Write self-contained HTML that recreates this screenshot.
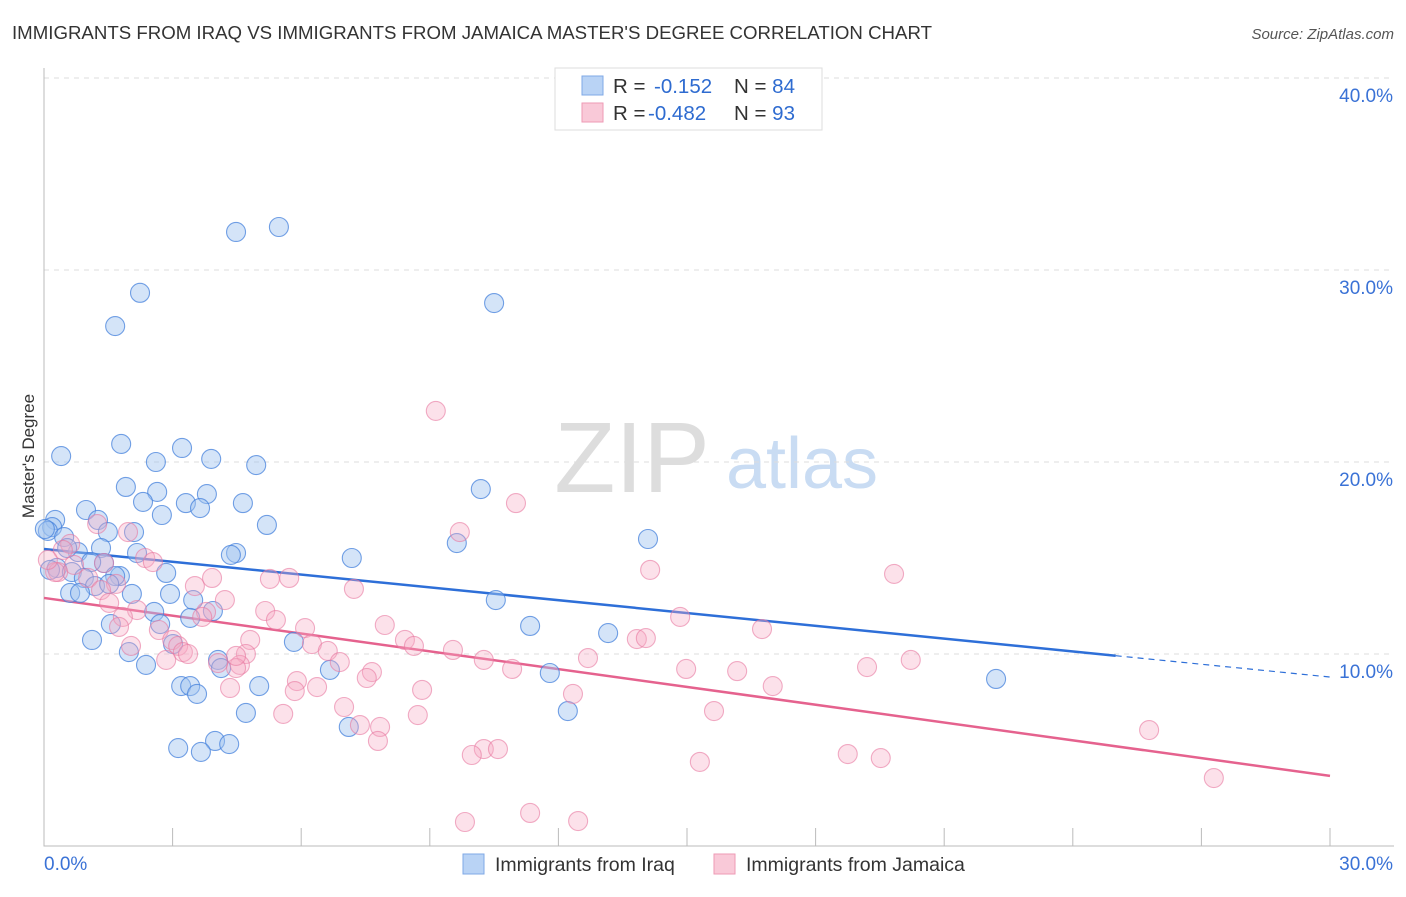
<!DOCTYPE html>
<html><head><meta charset="utf-8"><style>
body{margin:0;background:#fff;font-family:"Liberation Sans",sans-serif}
svg text{font-family:"Liberation Sans",sans-serif}
</style></head><body>
<svg width="1406" height="892" xmlns="http://www.w3.org/2000/svg">
<text x="12" y="39" font-size="18" fill="#333" textLength="920" lengthAdjust="spacingAndGlyphs">IMMIGRANTS FROM IRAQ VS IMMIGRANTS FROM JAMAICA MASTER'S DEGREE CORRELATION CHART</text>
<text x="1394" y="39" font-size="15" fill="#555" font-style="italic" text-anchor="end">Source: ZipAtlas.com</text>
<g>
<text x="632" y="492" font-size="100" font-family="Liberation Serif" fill="#ddd" text-anchor="middle">ZIP</text>
<text x="802" y="488" font-size="72" fill="#c9dcf3" text-anchor="middle">atlas</text>
</g>
<g id="grid"></g><g id="axes"></g><g id="lines"></g><g id="pts"></g>
<text transform="translate(34,456) rotate(-90)" font-size="17" fill="#333" text-anchor="middle">Master's Degree</text>
<g>
<rect x="555" y="68" width="267" height="62" fill="#fff" stroke="#ddd"/>
<rect x="582" y="76" width="21" height="19" fill="#b9d3f5" stroke="#7fa8e6"/>
<rect x="582" y="103" width="21" height="19" fill="#f9c9d8" stroke="#ee9ab5"/>
<text x="613" y="93" font-size="20.5" fill="#333">R = <tspan x="654" fill="#2e6bd0">-0.152</tspan><tspan x="734">N = </tspan><tspan fill="#2e6bd0">84</tspan></text>
<text x="613" y="120" font-size="20.5" fill="#333">R = <tspan x="648" fill="#2e6bd0">-0.482</tspan><tspan x="734">N = </tspan><tspan fill="#2e6bd0">93</tspan></text>
</g>
<g>
<rect x="463" y="854" width="21" height="20" fill="#b9d3f5" stroke="#7fa8e6"/>
<text x="495" y="871" font-size="19.5" fill="#333">Immigrants from Iraq</text>
<rect x="714" y="854" width="21" height="20" fill="#f9c9d8" stroke="#ee9ab5"/>
<text x="746" y="871" font-size="19.5" fill="#333">Immigrants from Jamaica</text>
</g>
</svg>
<script>
const yTicks=[10,20,30,40];
const yTickLabels=["10.0%","20.0%","30.0%","40.0%"];
const xTickLabels=["0.0%","30.0%"];
const iraqX=[4.48,5.48,2.24,1.66,10.50,0.40,1.80,3.22,3.90,2.61,4.95,1.91,2.64,3.80,10.19,2.31,3.31,3.64,4.64,2.75,0.98,1.26,5.20,0.26,0.19,0.09,0.47,1.49,2.10,9.63,14.09,7.18,4.48,4.36,1.33,0.79,0.54,2.17,1.40,1.10,0.30,0.65,1.77,1.66,2.85,0.93,1.19,1.52,0.61,0.84,2.05,2.94,3.48,10.54,2.57,3.94,3.41,1.56,2.71,11.34,13.16,1.12,3.01,5.83,1.98,4.06,2.38,4.13,6.67,11.80,22.21,3.20,3.41,5.02,3.57,4.71,12.22,7.11,3.99,4.32,3.13,3.66,0.02,0.14];
const iraqY=[31.98,32.24,28.81,27.08,28.28,20.31,20.94,20.73,20.16,20.0,19.84,18.70,18.44,18.33,18.59,17.92,17.86,17.60,17.86,17.24,17.5,16.98,16.72,16.98,16.61,16.41,16.09,16.35,16.35,15.78,15.99,15.0,15.26,15.16,15.52,15.31,15.52,15.26,14.74,14.79,14.48,14.27,14.06,14.06,14.22,13.96,13.54,13.65,13.18,13.18,13.13,13.13,12.81,12.81,12.19,12.24,11.88,11.56,11.56,11.46,11.09,10.73,10.52,10.63,10.10,9.69,9.43,9.27,9.17,9.01,8.70,8.33,8.33,8.33,7.92,6.93,7.03,6.20,5.47,5.31,5.10,4.90,16.51,14.38];
const jamX=[9.14,11.01,9.70,14.14,19.83,1.24,1.96,0.61,0.44,2.36,2.54,0.70,0.33,1.03,1.68,3.52,3.92,5.27,5.72,7.23,1.33,1.52,2.17,1.84,3.78,4.22,5.16,5.41,6.09,7.95,1.75,2.68,2.99,3.69,13.83,14.04,14.84,16.75,3.13,3.24,3.36,4.81,6.25,8.42,8.63,9.54,4.71,6.62,2.85,4.57,4.48,4.06,6.90,10.26,10.92,12.69,14.98,16.17,19.20,20.22,7.65,7.53,4.34,5.90,6.37,5.85,8.82,12.34,17.00,7.00,5.58,8.72,15.63,7.37,7.84,7.79,10.26,9.98,10.59,15.30,18.75,19.52,25.78,27.29,11.34,9.82,12.46,0.26,0.09,2.03,4.48,1.40];
const jamY=[22.66,17.86,16.35,14.38,14.17,16.77,16.35,15.73,15.42,15.0,14.79,14.64,14.27,13.96,13.65,13.54,13.96,13.91,13.96,13.39,13.33,12.66,12.29,11.93,12.19,12.81,12.24,11.77,11.35,11.51,11.41,11.25,10.73,11.93,10.78,10.83,11.93,11.30,10.42,10.10,10.0,10.73,10.52,10.73,10.42,10.21,10.0,10.16,9.69,9.43,9.27,9.53,9.58,9.69,9.22,9.79,9.22,9.11,9.32,9.69,9.06,8.75,8.23,8.59,8.28,8.07,8.13,7.92,8.33,7.24,6.88,6.82,7.03,6.30,6.20,5.47,5.05,4.74,5.05,4.38,4.79,4.58,6.04,3.54,1.72,1.25,1.30,14.27,14.90,10.42,9.90,14.74];
const iraqTrend=[15.47,8.80];
const jamTrend=[12.92,3.65];
const NS="http://www.w3.org/2000/svg";
const X=v=>44+v/30*1286, Y=v=>846-v*19.2;
function mk(t,a,p){const e=document.createElementNS(NS,t);for(const k in a)e.setAttribute(k,a[k]);p.appendChild(e);return e;}
const grid=document.getElementById('grid'),axes=document.getElementById('axes');
yTicks.forEach((t,i)=>{
 const l=mk('line',{x1:44,x2:1394,y1:Y(t),y2:Y(t),stroke:'#ddd','stroke-dasharray':'5,5'},grid);
 
 
 const tx=mk('text',{x:1393,y:Y(t)+24,'font-size':19,fill:'#3a72d6','text-anchor':'end'},axes);
 tx.textContent=yTickLabels[i];
 
 
});
const ax=mk('path',{d:'M44,68V846H1394',fill:'none',stroke:'#bbb'},axes);


for(let i=1;i<=10;i++){const tk=mk('line',{x1:X(i*3),x2:X(i*3),y1:828,y2:846,stroke:'#bbb'},axes);
 
 }
xTickLabels.forEach((s,i)=>{const tx=mk('text',{x:i?1393:44,y:870,'font-size':19,fill:'#3a72d6','text-anchor':i?'end':'start'},axes);
 tx.textContent=s;
 
 });
const pts=document.getElementById('pts');
function series(xs,ys,fill,stroke,name){xs.forEach((x,i)=>{const c=mk('circle',{cx:X(x),cy:Y(ys[i]),r:9.5,fill:fill,stroke:stroke,'stroke-width':1.1},pts);
 
 });}
series(iraqX,iraqY,'rgba(160,195,240,0.45)','rgba(70,130,220,0.75)','iraq-point');
series(jamX,jamY,'rgba(245,170,195,0.35)','rgba(232,120,160,0.6)','jamaica-point');
const ln=document.getElementById('lines');
const yb=x=>iraqTrend[0]+(iraqTrend[1]-iraqTrend[0])*x/30;
let a=mk('line',{x1:X(0),y1:Y(yb(0)),x2:X(25),y2:Y(yb(25)),stroke:'#2e6fd8','stroke-width':2.5},ln);


a=mk('line',{x1:X(25),y1:Y(yb(25)),x2:X(30),y2:Y(yb(30)),stroke:'#2e6fd8','stroke-width':1.2,'stroke-dasharray':'6,5'},ln);


a=mk('line',{x1:X(0),y1:Y(jamTrend[0]),x2:X(30),y2:Y(jamTrend[1]),stroke:'#e5628e','stroke-width':2.5},ln);


</script>
</body></html>
